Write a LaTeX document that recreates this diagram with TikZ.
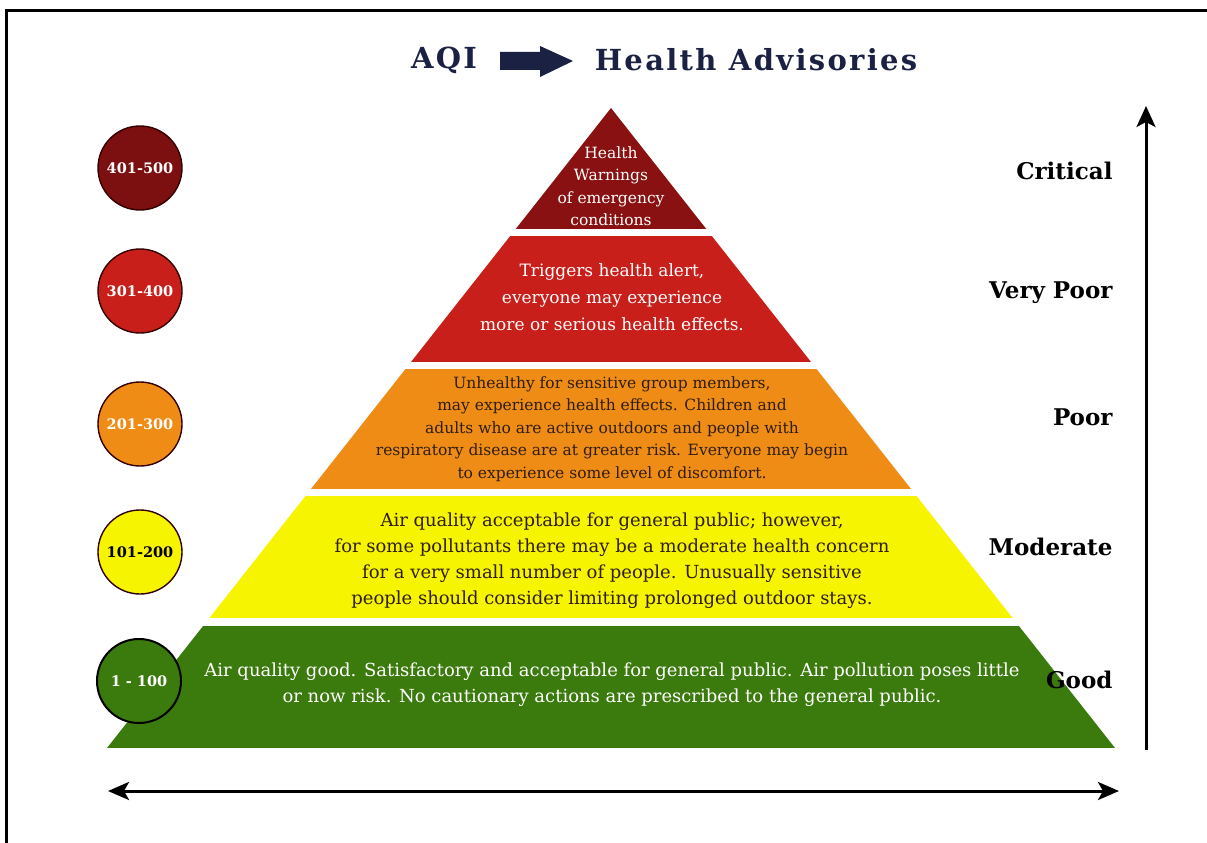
\documentclass[tikz,border=0pt]{standalone}
\usepackage{fontspec}
\setmainfont{DejaVu Serif}
\newfontfamily\slabfont{DejaVu Serif}
\newfontfamily\headfont[LetterSpace=8]{DejaVu Serif}
\usetikzlibrary{arrows.meta}
\definecolor{navy}{HTML}{1B2142}
\definecolor{critcol}{HTML}{8A1111}
\definecolor{vpoorcol}{HTML}{C81F1B}
\definecolor{poorcol}{HTML}{EF8C15}
\definecolor{modcol}{HTML}{F7F400}
\definecolor{goodcol}{HTML}{3B7A0C}
\definecolor{darktext}{HTML}{2E1E10}
\tikzstyle{aqi} = [circle, minimum size=84pt, inner sep=0pt, draw=black!80!red, line width=1.4pt, text=white, font=\slabfont\bfseries\fontsize{14.5}{14.5}\selectfont]
\tikzstyle{band} = [align=center, text=white, font=\slabfont]
\tikzstyle{level} = [anchor=east, font=\bfseries\fontsize{23}{23}\selectfont]
\tikzstyle{axis} = [line width=3pt, -{Stealth[length=21pt,width=19pt,inset=5pt]}]

\begin{document}
\begin{tikzpicture}[x=1pt,y=-1pt]
\useasboundingbox (0,0) rectangle (1207,843);
\draw[line width=3pt] (6,850) -- (6,11) -- (1215,11);

% title
\node (aqititle) [text=navy, font=\headfont\bfseries\fontsize{29}{29}\selectfont] at (444,60) {AQI};
\node (advtitle) [text=navy, font=\headfont\bfseries\fontsize{29}{29}\selectfont] at (756,60) {Health Advisories};
\fill[navy] (500,52) -- (540,52) -- (540,46) -- (573,61) -- (540,77) -- (540,70) -- (500,70) -- cycle;

% pyramid
\begin{scope}
\clip (611,108) -- (107,748) -- (1115,748) -- cycle;
\fill[critcol] (0,100) rectangle (1207,229);
\fill[vpoorcol] (0,236) rectangle (1207,362);
\fill[poorcol] (0,369) rectangle (1207,489);
\fill[modcol] (0,496) rectangle (1207,618);
\fill[goodcol] (0,626) rectangle (1207,748);
\end{scope}

\node (critbox) [band, font=\slabfont\fontsize{15.5}{22.5}\selectfont] at (611,186) {Health\\Warnings\\of emergency\\conditions};
\node (vpoorbox) [band, font=\slabfont\fontsize{17}{27}\selectfont] at (612,297) {Triggers health alert,\\everyone may experience\\more or serious health effects.};
\node (poorbox) [band, text=darktext, font=\slabfont\fontsize{15.5}{22.5}\selectfont] at (612,429) {Unhealthy for sensitive group members,\\may experience health effects. Children and\\adults who are active outdoors and people with\\respiratory disease are at greater risk. Everyone may begin\\to experience some level of discomfort.};
\node (modbox) [band, text=darktext, font=\slabfont\fontsize{18}{26}\selectfont] at (612,561) {Air quality acceptable for general public; however,\\for some pollutants there may be a moderate health concern\\for a very small number of people. Unusually sensitive\\people should consider limiting prolonged outdoor stays.};
\node (goodbox) [band, font=\slabfont\fontsize{18}{26}\selectfont] at (612,685) {Air quality good. Satisfactory and acceptable for general public. Air pollution poses little\\or now risk. No cautionary actions are prescribed to the general public.};

% AQI circles
\node (c5) [aqi, fill=critcol!90!black] at (140,168) {401-500};
\node (c4) [aqi, fill=vpoorcol] at (140,291) {301-400};
\node (c3) [aqi, fill=poorcol] at (140,424) {201-300};
\node (c2) [aqi, fill=modcol, text=black] at (140,552) {101-200};
\node (c1) [aqi, fill=goodcol, draw=black, line width=2pt] at (139,681) {1 - 100};

% levels
\node (l5) [level] at (1116,171) {Critical};
\node (l4) [level] at (1116,293) {Very Poor};
\node (l3) [level] at (1116,417) {Poor};
\node (l2) [level] at (1116,547) {Moderate};
\node (l1) [level] at (1116,680) {Good};

% axes
\coordinate (ybot) at (1146,750);
\coordinate (ytop) at (1146,106);
\coordinate (xleft) at (108,791);
\coordinate (xright) at (1119,791);
\draw[axis] (ybot) -- (ytop);
\draw[axis, {Stealth[length=21pt,width=18pt,inset=5pt]}-{Stealth[length=21pt,width=18pt,inset=5pt]}] (xleft) -- (xright);
\end{tikzpicture}
\end{document}
